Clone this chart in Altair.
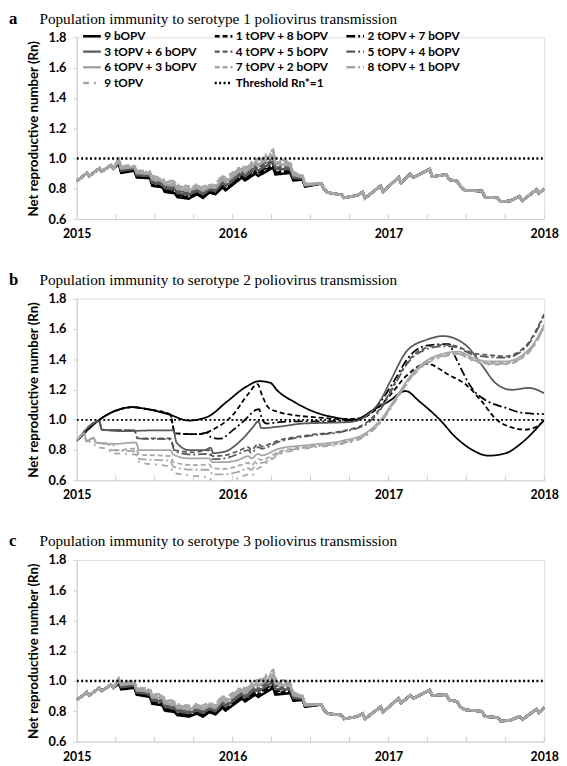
import altair as alt
import pandas as pd

SERIES = ["9 bOPV", "1 tOPV + 8 bOPV", "2 tOPV + 7 bOPV",
          "3 tOPV + 6 bOPV", "4 tOPV + 5 bOPV", "5 tOPV + 4 bOPV",
          "6 tOPV + 3 bOPV", "7 tOPV + 2 bOPV", "8 tOPV + 1 bOPV",
          "9 tOPV", "Threshold Rn*=1"]
COLORS = ["#000000", "#000000", "#000000", "#595959", "#595959", "#595959",
          "#a6a6a6", "#a6a6a6", "#a6a6a6", "#a6a6a6", "#000000"]
DASHES = [[1, 0], [5, 3], [9, 3, 2, 3], [1, 0], [5, 3], [9, 3, 2, 3],
          [1, 0], [5, 3], [9, 3, 2, 3], [6, 5, 2, 5], [2, 2.5]]

YEARS = [2015, 2016, 2017, 2018]
QUARTERS = [2015.25, 2015.5, 2015.75, 2016, 2016.25, 2016.5, 2016.75, 2017,
            2017.25, 2017.5, 2017.75, 2018]
Y_TICKS = [0.6, 0.8, 1.0, 1.2, 1.4, 1.6, 1.8]
THRESHOLD = [(2015.0, 1.0), (2018.0, 1.0)]

# ---------- panels a and c (sawtooth, shared time grid) ----------
HEAD_T = [2015.0, 2015.065, 2015.08, 2015.145, 2015.16, 2015.22, 2015.235]
MID_T = [2015.27, 2015.285, 2015.37, 2015.385, 2015.47, 2015.485, 2015.55, 2015.565,
         2015.63, 2015.645, 2015.72, 2015.77, 2015.81, 2015.85, 2015.89, 2015.935,
         2015.955, 2016.06, 2016.08, 2016.145, 2016.165, 2016.26, 2016.275, 2016.37,
         2016.39, 2016.45, 2016.465]
TAIL_T = [2016.57, 2016.585, 2016.61, 2016.70, 2016.715, 2016.80, 2016.835, 2016.85,
          2016.95, 2016.965, 2017.065, 2017.08, 2017.14, 2017.16, 2017.265, 2017.28,
          2017.37, 2017.39, 2017.44, 2017.46, 2017.49, 2017.60, 2017.62, 2017.70,
          2017.72, 2017.78, 2017.84, 2017.86, 2017.95, 2017.965, 2018.0]

A_HEAD = [0.85, 0.905, 0.885, 0.935, 0.915, 0.955, 0.935]
A_TAIL = [0.835, 0.80, 0.775, 0.76, 0.74, 0.757, 0.778, 0.738, 0.82, 0.78, 0.876, 0.84,
          0.898, 0.875, 0.93, 0.88, 0.895, 0.86, 0.85, 0.82, 0.79, 0.785, 0.745, 0.74,
          0.715, 0.72, 0.75, 0.722, 0.795, 0.77, 0.80]
A_MID = [
    [0.965, 0.905, 0.920, 0.875, 0.870, 0.820, 0.810, 0.780, 0.770, 0.745, 0.735, 0.765, 0.740, 0.775, 0.765, 0.810, 0.790, 0.875, 0.855, 0.900, 0.885, 0.940, 0.895, 0.905, 0.855, 0.860, 0.815],
    [0.969, 0.910, 0.924, 0.880, 0.875, 0.827, 0.817, 0.788, 0.779, 0.754, 0.744, 0.772, 0.748, 0.781, 0.772, 0.819, 0.799, 0.884, 0.864, 0.911, 0.897, 0.953, 0.907, 0.913, 0.861, 0.863, 0.817],
    [0.973, 0.915, 0.928, 0.885, 0.880, 0.834, 0.824, 0.796, 0.788, 0.763, 0.753, 0.779, 0.756, 0.787, 0.779, 0.828, 0.808, 0.893, 0.873, 0.922, 0.909, 0.966, 0.919, 0.921, 0.867, 0.866, 0.819],
    [0.977, 0.920, 0.932, 0.890, 0.885, 0.841, 0.831, 0.804, 0.797, 0.772, 0.762, 0.786, 0.764, 0.793, 0.786, 0.837, 0.817, 0.902, 0.882, 0.933, 0.921, 0.979, 0.931, 0.929, 0.873, 0.869, 0.821],
    [0.981, 0.925, 0.936, 0.895, 0.890, 0.848, 0.838, 0.812, 0.806, 0.781, 0.771, 0.793, 0.772, 0.799, 0.793, 0.846, 0.826, 0.911, 0.891, 0.944, 0.933, 0.992, 0.943, 0.937, 0.879, 0.872, 0.823],
    [0.985, 0.930, 0.940, 0.900, 0.895, 0.855, 0.845, 0.820, 0.815, 0.790, 0.780, 0.800, 0.780, 0.805, 0.800, 0.855, 0.835, 0.920, 0.900, 0.955, 0.945, 1.005, 0.955, 0.945, 0.885, 0.875, 0.825],
    [0.989, 0.935, 0.944, 0.905, 0.900, 0.862, 0.852, 0.828, 0.824, 0.799, 0.789, 0.807, 0.788, 0.811, 0.807, 0.864, 0.844, 0.929, 0.909, 0.966, 0.957, 1.018, 0.967, 0.953, 0.891, 0.878, 0.827],
    [0.993, 0.940, 0.948, 0.910, 0.905, 0.869, 0.859, 0.836, 0.833, 0.808, 0.798, 0.814, 0.796, 0.817, 0.814, 0.873, 0.853, 0.938, 0.918, 0.977, 0.969, 1.031, 0.979, 0.961, 0.897, 0.881, 0.829],
    [0.997, 0.945, 0.952, 0.915, 0.910, 0.876, 0.866, 0.844, 0.842, 0.817, 0.807, 0.821, 0.804, 0.823, 0.821, 0.882, 0.862, 0.947, 0.927, 0.988, 0.981, 1.044, 0.991, 0.969, 0.903, 0.884, 0.831],
    [1.001, 0.950, 0.956, 0.920, 0.915, 0.883, 0.873, 0.852, 0.851, 0.826, 0.816, 0.828, 0.812, 0.829, 0.828, 0.891, 0.871, 0.956, 0.936, 0.999, 0.993, 1.057, 1.003, 0.977, 0.909, 0.887, 0.833],
]

C_HEAD = [0.875, 0.925, 0.905, 0.955, 0.935, 0.975, 0.955]
C_TAIL = [0.845, 0.81, 0.785, 0.775, 0.75, 0.765, 0.785, 0.75, 0.83, 0.795, 0.885, 0.855,
          0.905, 0.885, 0.94, 0.905, 0.91, 0.875, 0.865, 0.83, 0.81, 0.80, 0.765, 0.76,
          0.735, 0.74, 0.765, 0.745, 0.815, 0.79, 0.825]
C_MID = [
    [0.985, 0.945, 0.955, 0.910, 0.895, 0.850, 0.840, 0.805, 0.795, 0.775, 0.765, 0.785, 0.765, 0.795, 0.780, 0.825, 0.805, 0.885, 0.865, 0.910, 0.895, 0.955, 0.910, 0.920, 0.870, 0.875, 0.830],
    [0.989, 0.950, 0.960, 0.915, 0.901, 0.857, 0.848, 0.813, 0.803, 0.783, 0.773, 0.792, 0.773, 0.802, 0.787, 0.834, 0.814, 0.894, 0.874, 0.921, 0.907, 0.968, 0.922, 0.928, 0.876, 0.878, 0.832],
    [0.993, 0.955, 0.965, 0.920, 0.907, 0.864, 0.856, 0.821, 0.811, 0.791, 0.781, 0.799, 0.781, 0.809, 0.794, 0.843, 0.823, 0.903, 0.883, 0.932, 0.919, 0.981, 0.934, 0.936, 0.882, 0.881, 0.834],
    [0.997, 0.960, 0.970, 0.925, 0.913, 0.871, 0.864, 0.829, 0.819, 0.799, 0.789, 0.806, 0.789, 0.816, 0.801, 0.852, 0.832, 0.912, 0.892, 0.943, 0.931, 0.994, 0.946, 0.944, 0.888, 0.884, 0.836],
    [1.001, 0.965, 0.975, 0.930, 0.919, 0.878, 0.872, 0.837, 0.827, 0.807, 0.797, 0.813, 0.797, 0.823, 0.808, 0.861, 0.841, 0.921, 0.901, 0.954, 0.943, 1.007, 0.958, 0.952, 0.894, 0.887, 0.838],
    [1.005, 0.970, 0.980, 0.935, 0.925, 0.885, 0.880, 0.845, 0.835, 0.815, 0.805, 0.820, 0.805, 0.830, 0.815, 0.870, 0.850, 0.930, 0.910, 0.965, 0.955, 1.020, 0.970, 0.960, 0.900, 0.890, 0.840],
    [1.009, 0.975, 0.985, 0.940, 0.931, 0.892, 0.888, 0.853, 0.843, 0.823, 0.813, 0.827, 0.813, 0.837, 0.822, 0.879, 0.859, 0.939, 0.919, 0.976, 0.967, 1.033, 0.982, 0.968, 0.906, 0.893, 0.842],
    [1.013, 0.980, 0.990, 0.945, 0.937, 0.899, 0.896, 0.861, 0.851, 0.831, 0.821, 0.834, 0.821, 0.844, 0.829, 0.888, 0.868, 0.948, 0.928, 0.987, 0.979, 1.046, 0.994, 0.976, 0.912, 0.896, 0.844],
    [1.017, 0.985, 0.995, 0.950, 0.943, 0.906, 0.904, 0.869, 0.859, 0.839, 0.829, 0.841, 0.829, 0.851, 0.836, 0.897, 0.877, 0.957, 0.937, 0.998, 0.991, 1.059, 1.006, 0.984, 0.918, 0.899, 0.846],
    [1.021, 0.990, 1.000, 0.955, 0.949, 0.913, 0.912, 0.877, 0.867, 0.847, 0.837, 0.848, 0.837, 0.858, 0.843, 0.906, 0.886, 0.966, 0.946, 1.009, 1.003, 1.072, 1.018, 0.992, 0.924, 0.902, 0.848],
]

# ---------- panel b (smooth curves, (year, Rn) pairs) ----------
B_9BOPV = [(2015.00, 0.86), (2015.145, 1.00), (2015.25, 1.06), (2015.355, 1.083), (2015.46, 1.069),
           (2015.586, 1.037), (2015.72, 0.995), (2015.84, 1.02), (2015.964, 1.12), (2016.09, 1.22),
           (2016.17, 1.255), (2016.24, 1.245), (2016.29, 1.19), (2016.40, 1.115), (2016.53, 1.05),
           (2016.66, 1.015), (2016.78, 1.0), (2016.91, 1.07), (2017.00, 1.12), (2017.11, 1.19),
           (2017.20, 1.12), (2017.33, 1.0), (2017.43, 0.886), (2017.54, 0.80), (2017.64, 0.763),
           (2017.75, 0.778), (2017.85, 0.843), (2018.00, 1.0)]
B_1T8B = [(2015.00, 0.86), (2015.145, 1.00), (2015.25, 1.06), (2015.355, 1.083), (2015.46, 1.069),
          (2015.60, 1.035), (2015.63, 0.91), (2015.78, 0.905), (2015.90, 0.95), (2016.00, 1.03),
          (2016.10, 1.17), (2016.16, 1.235), (2016.19, 1.16), (2016.23, 1.08), (2016.30, 1.05),
          (2016.40, 1.03), (2016.55, 1.015), (2016.70, 1.005), (2016.82, 1.01), (2016.91, 1.06),
          (2017.00, 1.15), (2017.12, 1.295), (2017.245, 1.37), (2017.39, 1.295), (2017.50, 1.23),
          (2017.60, 1.12), (2017.69, 1.004), (2017.79, 0.95), (2017.88, 0.935), (2017.94, 0.95),
          (2018.00, 0.994)]
B_2T7B = [(2015.00, 0.86), (2015.145, 1.00), (2015.25, 1.06), (2015.355, 1.083), (2015.46, 1.069),
          (2015.60, 1.035), (2015.63, 0.91), (2015.78, 0.905), (2015.84, 0.915), (2015.86, 0.885),
          (2015.92, 0.875), (2016.00, 0.93), (2016.08, 1.0), (2016.15, 1.065), (2016.17, 1.07),
          (2016.19, 1.0), (2016.22, 0.975), (2016.30, 0.985), (2016.45, 0.99), (2016.60, 0.99),
          (2016.75, 0.995), (2016.85, 1.02), (2016.95, 1.12), (2017.05, 1.28), (2017.12, 1.40),
          (2017.245, 1.49), (2017.39, 1.50), (2017.42, 1.435), (2017.465, 1.34), (2017.51, 1.25),
          (2017.55, 1.19), (2017.60, 1.145), (2017.66, 1.11), (2017.75, 1.08), (2017.85, 1.047),
          (2018.00, 1.037)]
B_3T6B = [(2015.00, 0.86), (2015.145, 0.99), (2015.16, 0.935), (2015.30, 0.925), (2015.50, 0.93),
          (2015.62, 0.93), (2015.64, 0.85), (2015.72, 0.80), (2015.82, 0.80), (2015.86, 0.815),
          (2015.875, 0.78), (2015.95, 0.79), (2016.05, 0.86), (2016.13, 0.95), (2016.165, 0.99),
          (2016.185, 0.945), (2016.30, 0.955), (2016.45, 0.975), (2016.60, 0.98), (2016.75, 0.985),
          (2016.85, 1.02), (2016.95, 1.13), (2017.01, 1.25), (2017.12, 1.456), (2017.25, 1.53),
          (2017.35, 1.553), (2017.50, 1.49), (2017.60, 1.36), (2017.69, 1.24), (2017.79, 1.198),
          (2017.90, 1.21), (2018.00, 1.175)]
B_4T5B = [(2015.00, 0.86), (2015.145, 0.99), (2015.16, 0.935), (2015.37, 0.93), (2015.39, 0.877),
          (2015.60, 0.877), (2015.63, 0.80), (2015.75, 0.785), (2015.85, 0.80), (2015.87, 0.76),
          (2015.95, 0.765), (2016.05, 0.80), (2016.10, 0.82), (2016.12, 0.80), (2016.165, 0.84),
          (2016.185, 0.825), (2016.30, 0.865), (2016.50, 0.90), (2016.70, 0.925), (2016.85, 0.975),
          (2016.95, 1.08), (2017.05, 1.26), (2017.12, 1.38), (2017.22, 1.467), (2017.35, 1.495),
          (2017.43, 1.488), (2017.54, 1.44), (2017.64, 1.428), (2017.75, 1.419), (2017.81, 1.434),
          (2017.90, 1.51), (2018.00, 1.70)]
B_5T4B = [(2015.00, 0.86), (2015.145, 0.99), (2015.16, 0.935), (2015.37, 0.93), (2015.39, 0.877),
          (2015.60, 0.87), (2015.63, 0.79), (2015.75, 0.77), (2015.85, 0.775), (2015.87, 0.74),
          (2015.95, 0.745), (2016.05, 0.78), (2016.10, 0.80), (2016.12, 0.78), (2016.165, 0.82),
          (2016.185, 0.81), (2016.30, 0.855), (2016.50, 0.895), (2016.70, 0.92), (2016.85, 0.965),
          (2016.95, 1.07), (2017.05, 1.25), (2017.12, 1.37), (2017.22, 1.455), (2017.35, 1.485),
          (2017.43, 1.48), (2017.54, 1.43), (2017.64, 1.415), (2017.75, 1.41), (2017.81, 1.425),
          (2017.90, 1.50), (2018.00, 1.69)]
B_6T3B = [(2015.00, 0.86), (2015.05, 0.91), (2015.06, 0.86), (2015.11, 0.88), (2015.12, 0.85),
          (2015.23, 0.84), (2015.38, 0.85), (2015.40, 0.80), (2015.60, 0.80), (2015.62, 0.77),
          (2015.72, 0.745), (2015.85, 0.745), (2015.87, 0.72), (2015.95, 0.72), (2016.05, 0.74),
          (2016.10, 0.76), (2016.12, 0.745), (2016.165, 0.775), (2016.185, 0.765), (2016.30, 0.81),
          (2016.50, 0.835), (2016.70, 0.86), (2016.85, 0.91), (2016.95, 1.0), (2017.05, 1.15),
          (2017.15, 1.30), (2017.30, 1.42), (2017.45, 1.45), (2017.54, 1.41), (2017.64, 1.385),
          (2017.75, 1.385), (2017.85, 1.42), (2017.93, 1.50), (2018.00, 1.63)]
B_7T2B = [(2015.00, 0.86), (2015.05, 0.91), (2015.06, 0.86), (2015.11, 0.88), (2015.12, 0.85),
          (2015.23, 0.84), (2015.25, 0.80), (2015.38, 0.81), (2015.40, 0.77), (2015.60, 0.76),
          (2015.62, 0.72), (2015.75, 0.70), (2015.85, 0.705), (2015.87, 0.68), (2015.95, 0.675),
          (2016.05, 0.70), (2016.10, 0.715), (2016.12, 0.70), (2016.165, 0.74), (2016.185, 0.735),
          (2016.30, 0.79), (2016.50, 0.825), (2016.70, 0.85), (2016.85, 0.90), (2016.95, 0.99),
          (2017.05, 1.14), (2017.15, 1.29), (2017.30, 1.41), (2017.45, 1.44), (2017.54, 1.40),
          (2017.64, 1.375), (2017.75, 1.375), (2017.85, 1.41), (2017.93, 1.49), (2018.00, 1.62)]
B_8T1B = [(2015.00, 0.86), (2015.05, 0.91), (2015.06, 0.86), (2015.11, 0.88), (2015.12, 0.85),
          (2015.20, 0.84), (2015.22, 0.80), (2015.38, 0.79), (2015.40, 0.74), (2015.60, 0.73),
          (2015.62, 0.69), (2015.75, 0.67), (2015.85, 0.67), (2015.87, 0.64), (2015.95, 0.64),
          (2016.05, 0.66), (2016.10, 0.68), (2016.12, 0.67), (2016.165, 0.72), (2016.185, 0.715),
          (2016.30, 0.78), (2016.50, 0.82), (2016.70, 0.845), (2016.85, 0.895), (2016.95, 0.985),
          (2017.05, 1.135), (2017.15, 1.285), (2017.30, 1.405), (2017.45, 1.435), (2017.54, 1.395),
          (2017.64, 1.37), (2017.75, 1.37), (2017.85, 1.405), (2017.93, 1.485), (2018.00, 1.615)]
B_9TOPV = [(2015.00, 0.86), (2015.05, 0.91), (2015.06, 0.86), (2015.11, 0.85), (2015.12, 0.82),
           (2015.20, 0.81), (2015.22, 0.78), (2015.38, 0.77), (2015.40, 0.72), (2015.60, 0.69),
           (2015.62, 0.65), (2015.75, 0.63), (2015.85, 0.62), (2015.87, 0.59), (2015.95, 0.59),
           (2016.05, 0.62), (2016.10, 0.64), (2016.12, 0.63), (2016.165, 0.68), (2016.185, 0.69),
           (2016.30, 0.77), (2016.50, 0.815), (2016.70, 0.84), (2016.85, 0.89), (2016.95, 0.98),
           (2017.05, 1.13), (2017.15, 1.28), (2017.30, 1.40), (2017.45, 1.43), (2017.54, 1.39),
           (2017.64, 1.365), (2017.75, 1.365), (2017.85, 1.40), (2017.93, 1.48), (2018.00, 1.61)]
B_ALL = [B_9BOPV, B_1T8B, B_2T7B, B_3T6B, B_4T5B, B_5T4B, B_6T3B, B_7T2B, B_8T1B, B_9TOPV]

AXIS_GRAY = "#cfcfcf"
PW, PH = 476, 185


def sawtooth_frame(head, mids, tail):
    rows = []
    times = HEAD_T + MID_T + TAIL_T
    for name, mid in zip(SERIES[:10], mids):
        for t, v in zip(times, head + mid + tail):
            rows.append({"s": name, "t": t, "v": v})
    for t, v in THRESHOLD:
        rows.append({"s": SERIES[10], "t": t, "v": v})
    return pd.DataFrame(rows)


def pairs_frame(groups):
    rows = []
    for name, pts in zip(SERIES[:10], groups):
        for t, v in pts:
            rows.append({"s": name, "t": t, "v": v})
    for t, v in THRESHOLD:
        rows.append({"s": SERIES[10], "t": t, "v": v})
    return pd.DataFrame(rows)


def legend():
    return alt.Legend(orient="none", legendX=8, legendY=-9, columns=3,
                      direction="horizontal",
                      columnPadding=12, rowPadding=2, gridAlign="all",
                      symbolType="M-1.5,0H1.5", symbolSize=144, symbolStrokeWidth=2.5,
                      labelFont="Lato", labelFontSize=12, labelFontWeight="bold",
                      labelColor="#000000", labelOffset=5, labelLimit=200, padding=0)


X_SCALE = alt.Scale(domain=[2015, 2018], nice=False, zero=False)
X_AXIS = alt.Axis(values=YEARS, format="d", title=None, ticks=False,
                  labelPadding=9, labelFlush=False, grid=False,
                  domainColor=AXIS_GRAY, labelFont="Lato", labelFontSize=12.5,
                  labelFontWeight="bold", labelColor="#000000")


def panel(df, letter, title, interp, sw):
    ticks = alt.Chart(pd.DataFrame({"t": QUARTERS})).mark_rule(
        color=AXIS_GRAY, strokeWidth=1).encode(
        x=alt.X("t:Q", scale=X_SCALE, axis=X_AXIS), y=alt.value(PH), y2=alt.value(PH - 5))
    lines = alt.Chart(df).mark_line(interpolate=interp, strokeWidth=sw, clip=True).encode(
        x=alt.X("t:Q", scale=X_SCALE, axis=X_AXIS),
        y=alt.Y("v:Q", scale=alt.Scale(domain=[0.6, 1.8], nice=False, zero=False),
                axis=alt.Axis(values=Y_TICKS, format=".1f",
                              title="Net reproductive number (Rn)", tickSize=4,
                              tickColor=AXIS_GRAY, labelPadding=7, titlePadding=8,
                              grid=False, domainColor=AXIS_GRAY, labelFont="Lato",
                              labelFontSize=13, labelFontWeight="bold",
                              labelColor="#000000", titleFont="Lato", titleFontSize=13.5,
                              titleFontWeight="bold", titleColor="#000000")),
        color=alt.Color("s:N", scale=alt.Scale(domain=SERIES, range=COLORS),
                        title=None, legend=legend()),
        strokeDash=alt.StrokeDash("s:N", scale=alt.Scale(domain=SERIES, range=DASHES),
                                  title=None, legend=legend()),
    )
    lab = alt.Chart(pd.DataFrame({"k": [letter]})).mark_text(
        align="left", baseline="middle", font="Liberation Serif", fontSize=17,
        fontWeight="bold", color="#000000").encode(
        text="k:N", x=alt.value(-69), y=alt.value(-19))
    ttl = alt.Chart(pd.DataFrame({"k": [title]})).mark_text(
        align="left", baseline="middle", font="Liberation Serif", fontSize=15.5,
        color="#000000").encode(
        text="k:N", x=alt.value(-38), y=alt.value(-19))
    return alt.layer(ticks, lines, lab, ttl).properties(width=PW, height=PH)


pa = panel(sawtooth_frame(A_HEAD, A_MID, A_TAIL), "a",
           "Population immunity to serotype 1 poliovirus transmission", "linear", 2.6)
pb = panel(pairs_frame(B_ALL), "b",
           "Population immunity to serotype 2 poliovirus transmission", "monotone", 1.8)
pc = panel(sawtooth_frame(C_HEAD, C_MID, C_TAIL), "c",
           "Population immunity to serotype 3 poliovirus transmission", "linear", 2.6)

chart = alt.vconcat(pa, pb, pc, spacing=30).properties(
    padding={"left": 0, "top": -6, "right": 0, "bottom": 0}
).configure_view(stroke=None).configure(background="#ffffff")

chart.save("out.html", embed_options={"renderer": "svg", "actions": False})
